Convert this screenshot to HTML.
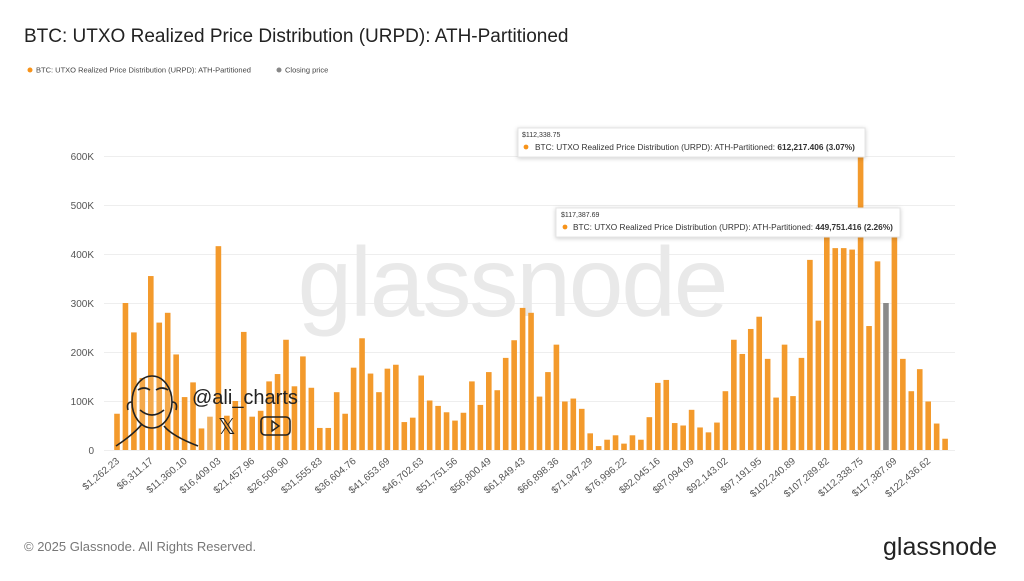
<!DOCTYPE html>
<html><head><meta charset="utf-8"><style>
html,body{margin:0;padding:0;background:#fff;}
body{width:1024px;height:576px;overflow:hidden;font-family:"Liberation Sans",sans-serif;}
</style></head><body>
<svg id="s" width="1024" height="576" xmlns="http://www.w3.org/2000/svg" font-family="Liberation Sans, sans-serif">
<rect width="1024" height="576" fill="#fff"/>
<text x="24" y="42" font-size="19" fill="#222">BTC: UTXO Realized Price Distribution (URPD): ATH-Partitioned</text>
<circle cx="30" cy="70" r="2.5" fill="#f7931a"/>
<text x="36" y="72.5" font-size="7.5" fill="#444">BTC: UTXO Realized Price Distribution (URPD): ATH-Partitioned</text>
<circle cx="279" cy="70" r="2.5" fill="#888"/>
<text x="285" y="72.5" font-size="7.5" fill="#444">Closing price</text>
<g id="grid" stroke="#eee" stroke-width="1"></g>
<g font-size="10" fill="#555" text-anchor="end">
<text x="94" y="454">0</text><text x="94" y="405">100K</text><text x="94" y="356">200K</text><text x="94" y="307">300K</text><text x="94" y="258">400K</text><text x="94" y="209">500K</text><text x="94" y="160">600K</text>
</g>
<text x="512" y="316" font-size="98" fill="#e9e9e9" text-anchor="middle" letter-spacing="-2">glassnode</text>
<g id="bars"></g>
<g id="xl" font-size="10" fill="#555" text-anchor="end"></g>
<g fill="none" stroke="#222" stroke-width="1.6">
<ellipse cx="152" cy="402" rx="20" ry="26" fill="rgba(255,255,255,0.15)"/>
<path d="M138 390 q6 -4 12 0 M156 390 q6 -4 12 0 M140 410 q12 10 24 0 M142 424 q-8 10 -26 22 M164 426 q8 10 34 20 M132 402 q-6 0 -4 8 M172 402 q6 0 4 8"/>
</g>
<text x="192" y="404" font-size="20" fill="#222">@ali_charts</text>
<text x="218" y="434" font-size="22" fill="#222">𝕏</text>
<rect x="261" y="417" width="29" height="18" rx="4" fill="none" stroke="#222" stroke-width="1.6"/>
<path d="M272 421 l7 5 l-7 5 z" fill="none" stroke="#222" stroke-width="1.4"/>
<g>
<rect x="518" y="128" width="347" height="29" fill="#fff" stroke="#e4e4e4" style="filter:drop-shadow(0 1px 2px rgba(0,0,0,0.2))"/>
<text x="522" y="137" font-size="7" fill="#333">$112,338.75</text>
<circle cx="526" cy="147" r="2.4" fill="#f7931a"/>
<text x="535" y="150" font-size="8.3" fill="#333">BTC: UTXO Realized Price Distribution (URPD): ATH-Partitioned: <tspan font-weight="bold">612,217.406 (3.07%)</tspan></text>
<rect x="556" y="208" width="344" height="29" fill="#fff" stroke="#e4e4e4" style="filter:drop-shadow(0 1px 2px rgba(0,0,0,0.2))"/>
<text x="561" y="217" font-size="7" fill="#333">$117,387.69</text>
<circle cx="565" cy="227" r="2.4" fill="#f7931a"/>
<text x="573" y="230" font-size="8.3" fill="#333">BTC: UTXO Realized Price Distribution (URPD): ATH-Partitioned: <tspan font-weight="bold">449,751.416 (2.26%)</tspan></text>
</g>
<text x="24" y="551" font-size="13" fill="#777">© 2025 Glassnode. All Rights Reserved.</text>
<text x="997" y="555" font-size="25" fill="#222" text-anchor="end">glassnode</text>
</svg>
<script>
(function(){
var v=[74,300,240,147,355,260,280,195,108,138,44,68,416,70,100,241,68,80,140,155,225,130,191,127,45,45,118,74,168,228,156,118,166,174,57,66,152,101,90,77,60,76,140,92,159,122,188,224,290,280,109,159,215,99,105,84,34,8,21,30,13,30,21,67,137,143,55,50,82,46,36,56,120,225,196,247,272,186,107,215,110,188,388,264,443,412,412,409,612,253,385,300,450,186,120,165,99,54,23];
var NS="http://www.w3.org/2000/svg";
function el(t,a,p){var e=document.createElementNS(NS,t);for(var k in a)e.setAttribute(k,a[k]);p.appendChild(e);return e;}
var g=document.getElementById('grid');
for(var i=0;i<=6;i++){var yy=450-49*i;el('line',{x1:104,x2:955,y1:yy+0.5,y2:yy+0.5},g);}
var b=document.getElementById('bars');
var clips={89:150,93:237};
for(var n=1;n<=99;n++){var x=117+(n-1)*8.45,h=v[n-1]*0.49;var ty=450-h;
 var fill=n==92?'#8a8a8a':(n==12?'#f0b060':'#f39a2c');
 if(clips[n]){ty=Math.max(ty,clips[n]);h=450-ty;}
 el('rect',{x:(x-2.8).toFixed(2),y:ty.toFixed(2),width:5.6,height:h.toFixed(2),fill:fill},b);}
var L=["$1,262.23","$6,311.17","$11,360.10","$16,409.03","$21,457.96","$26,506.90","$31,555.83","$36,604.76","$41,653.69","$46,702.63","$51,751.56","$56,800.49","$61,849.43","$66,898.36","$71,947.29","$76,996.22","$82,045.16","$87,094.09","$92,143.02","$97,191.95","$102,240.89","$107,289.82","$112,338.75","$117,387.69","$122,436.62"];
var xl=document.getElementById('xl');
for(var j=0;j<L.length;j++){var m=1+4*j;var xx=117+(m-1)*8.45+3;var t=el('text',{x:0,y:0,transform:'translate('+xx.toFixed(1)+',462) rotate(-40)'},xl);t.textContent=L[j];}
})();
</script>
</body></html>
